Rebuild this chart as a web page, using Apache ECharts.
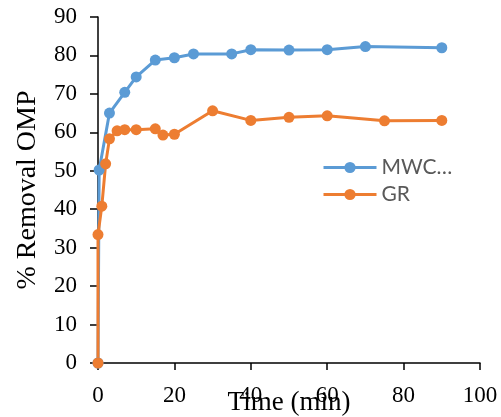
<!DOCTYPE html>
<html>
<head>
<meta charset="utf-8">
<script src="https://cdn.jsdelivr.net/npm/echarts@6/dist/echarts.min.js"></script>
<style>
  html, body { margin: 0; padding: 0; background: #fff; }
  #chart { width: 501px; height: 417px; }
</style>
</head>
<body>
<div id="chart"></div>
<script>
  // Time (min) and % removal
  const mwcTime = [0, 0.3, 3, 7, 10, 15, 20, 25, 35, 40, 50, 60, 70, 90];
  const mwcRemoval = [0, 50.2, 65.0, 70.4, 74.4, 78.8, 79.4, 80.4, 80.4, 81.5, 81.4, 81.5, 82.3, 82.0];
  const grTime = [0, 0, 1, 2, 3, 5, 7, 10, 15, 17, 20, 30, 40, 50, 60, 75, 90];
  const grRemoval = [0, 33.4, 40.8, 51.8, 58.3, 60.4, 60.7, 60.7, 60.9, 59.3, 59.5, 65.6, 63.1, 63.9, 64.3, 63.0, 63.1];

  const serif = '"Liberation Serif", "Times New Roman", serif';
  const pairs = (xs, ys) => xs.map((x, i) => [x, ys[i]]);

  const chart = echarts.init(document.getElementById('chart'));
  chart.setOption({
    animation: false,
    grid: { left: 98, right: 21, top: 17, bottom: 54, outerBoundsMode: 'none' },
    legend: {
      orient: 'vertical',
      left: 322,
      top: 157,
      padding: 0,
      itemWidth: 53,
      itemHeight: 14,
      itemGap: 6,
      lineStyle: { width: 3 },
      textStyle: { fontFamily: 'Lato, "Open Sans", sans-serif', fontSize: 21, lineHeight: 20, color: '#595959' },
      data: ['MWC…', 'GR']
    },
    xAxis: {
      type: 'value',
      min: 0, max: 100, interval: 20,
      name: 'Time (min)',
      nameLocation: 'middle',
      nameGap: 26,
      nameMoveOverlap: false,
      nameTextStyle: { fontFamily: serif, fontSize: 27, color: '#000' },
      axisLine: { lineStyle: { color: '#000', width: 1.5 } },
      axisTick: { show: true, length: 7, lineStyle: { color: '#000', width: 1.5 } },
      axisLabel: { fontFamily: serif, fontSize: 23, color: '#000', margin: 21 },
      splitLine: { show: false }
    },
    yAxis: {
      type: 'value',
      min: 0, max: 90, interval: 10,
      name: '% Removal OMP',
      nameLocation: 'middle',
      nameGap: 56,
      nameMoveOverlap: false,
      nameTextStyle: { fontFamily: serif, fontSize: 28, color: '#000' },
      axisLine: { show: true, lineStyle: { color: '#000', width: 1.5 } },
      axisTick: { show: true, length: 8, lineStyle: { color: '#000', width: 1.5 } },
      axisLabel: { fontFamily: serif, fontSize: 23, color: '#000', margin: 21 },
      splitLine: { show: false }
    },
    series: [
      {
        name: 'MWC…',
        type: 'line',
        data: pairs(mwcTime, mwcRemoval),
        symbol: 'circle',
        symbolSize: 11,
        lineStyle: { color: '#5B9BD5', width: 3 },
        itemStyle: { color: '#5B9BD5' }
      },
      {
        name: 'GR',
        type: 'line',
        data: pairs(grTime, grRemoval),
        symbol: 'circle',
        symbolSize: 11,
        lineStyle: { color: '#ED7D31', width: 3 },
        itemStyle: { color: '#ED7D31' }
      }
    ]
  });
</script>
</body>
</html>
